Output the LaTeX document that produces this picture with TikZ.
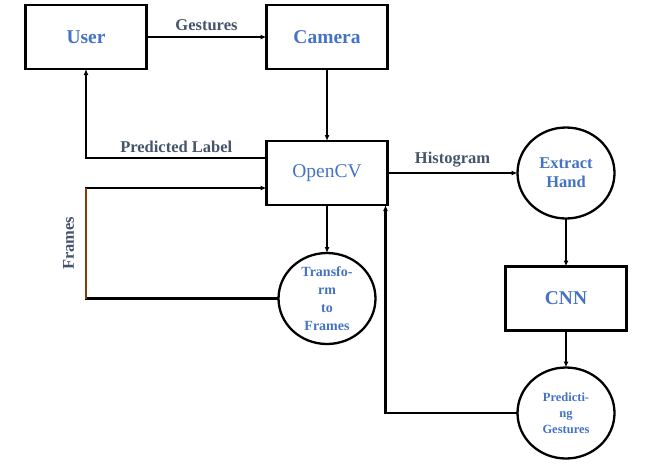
\documentclass[tikz,border=0pt]{standalone}
\usepackage{fontspec}
\setmainfont{Liberation Serif}
\usepackage{tikz}
\usetikzlibrary{arrows.meta, positioning, shapes.geometric}
\definecolor{NodeBlue}{RGB}{68,114,196}
\definecolor{LabelGray}{RGB}{68,84,106}
\definecolor{FrameBrown}{RGB}{132,60,12}
\tikzstyle{link} = [-{Latex[length=6pt,width=5pt]}, draw=black, line width=2.1pt]
\tikzstyle{lbl} = [font=\bfseries\fontsize{16.5}{18}\selectfont, text=LabelGray, inner sep=2pt]
\tikzstyle{block} = [rectangle, draw=black, minimum width=121pt, minimum height=64pt, text=NodeBlue, font=\bfseries\fontsize{19.5}{22}\selectfont]
\tikzstyle{stage} = [ellipse, draw=black, minimum width=97pt, minimum height=91pt, text=NodeBlue, align=center]

\begin{document}
\begin{tikzpicture}[x=1pt, y=1pt, line width=2.3pt, inner sep=0pt, outer sep=0pt]
	\useasboundingbox (0,0) rectangle (655,-472);
	% BOXES
	\node (User) [block] at (86,-37) {User};
	\node (Camera) [right=120pt of User, block] {Camera};
	\node (OpenCV) [below=72pt of Camera, block, font=\fontsize{19.5}{22}\selectfont] {OpenCV};
	\node (Transform) [below=48pt of OpenCV, stage, font=\bfseries\fontsize{14}{18}\selectfont] {Transfo-\\rm\\to\\Frames};
	\node (Extract) [right=130pt of OpenCV, stage, font=\bfseries\fontsize{16.5}{19}\selectfont] {Extract\\Hand};
	\node (CNN) [below=48pt of Extract, block] {CNN};
	\node (Predict) [below=37pt of CNN, stage, font=\bfseries\fontsize{12.5}{16}\selectfont] {Predicti-\\ng\\Gestures};

	\coordinate (framesIn) at ([yshift=-15pt]OpenCV.west);
	\coordinate (framesHigh) at (framesIn -| User.south);
	\coordinate (framesLow) at (User.south |- Transform.west);
	\coordinate (backIn) at ([xshift=-2pt]OpenCV.south east);

	\draw [link] (User) -- node[lbl, above=4pt] {Gestures} (Camera);
	\draw [link] (Camera) -- (OpenCV);
	\draw [link] ([yshift=15pt]OpenCV.west) -| node[lbl, pos=0.25, above=3pt] {Predicted Label} (User.south);
	\draw [link] (OpenCV) -- (Transform);
	\draw [link] (Transform.west) -- (framesLow) -- (framesHigh) -- (framesIn);
	\draw [FrameBrown, line width=2.1pt] (framesLow) -- node[lbl, anchor=south, rotate=90, outer sep=10pt] {Frames} (framesHigh);
	\draw [link] (OpenCV) -- node[lbl, above=4pt] {Histogram} (Extract);
	\draw [link] (Extract) -- (CNN);
	\draw [link] (CNN) -- (Predict);
	\draw [link] (Predict.west) -| (backIn);
\end{tikzpicture}
\end{document}
